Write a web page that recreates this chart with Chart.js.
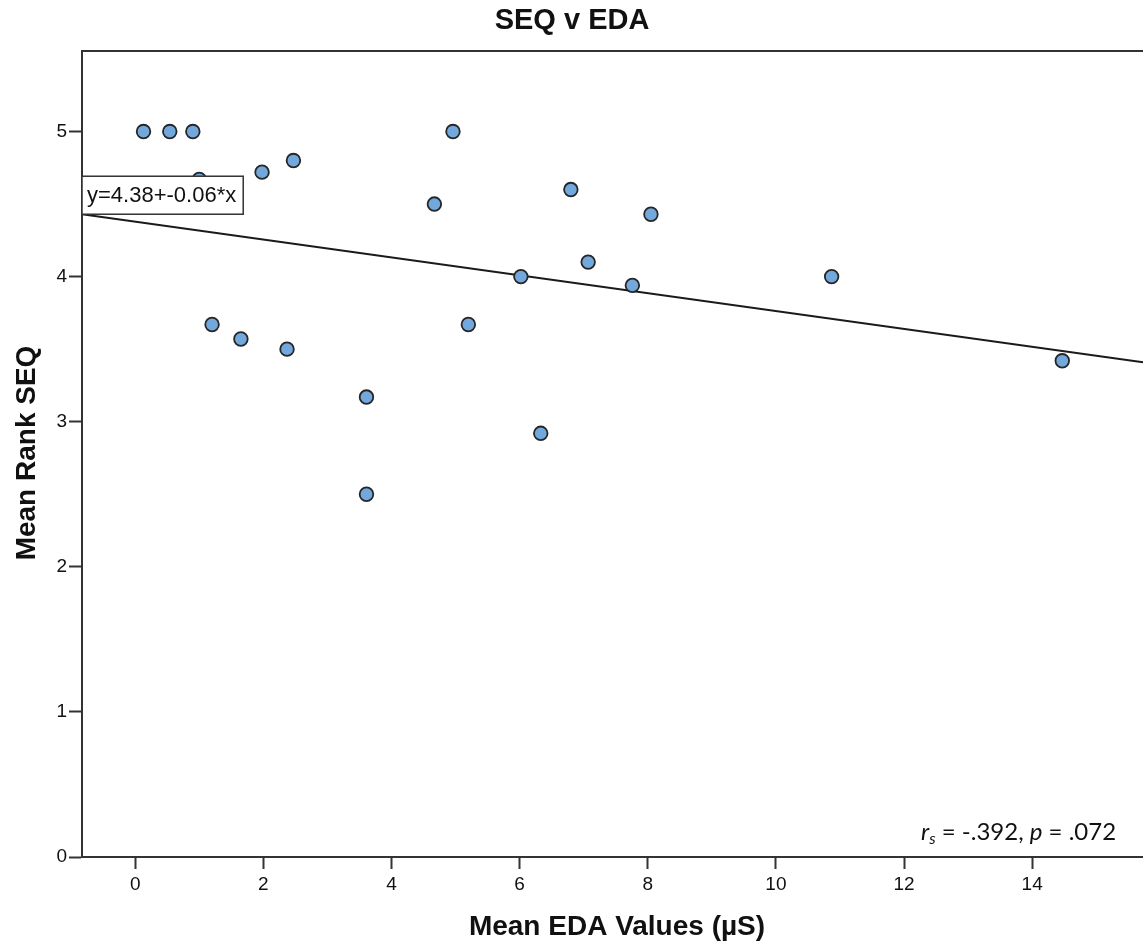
<!DOCTYPE html>
<html>
<head>
<meta charset="utf-8">
<script src="https://cdn.jsdelivr.net/npm/chart.js@4/dist/chart.umd.min.js"></script>
<style>
  html, body { margin: 0; padding: 0; background: #fff; overflow: hidden; }
  #wrap { width: 1143px; height: 943px; position: relative; }
</style>
</head>
<body>
<div id="wrap"><canvas id="scatter-chart"></canvas></div>
<script>
// values
const edaValues = [0.13, 0.54, 0.90, 1.00, 1.98, 2.47, 1.20, 1.65, 2.37, 3.61, 3.61, 4.67, 4.96, 5.20, 6.02, 6.33, 6.80, 7.07, 7.76, 8.05, 10.87, 14.47];
const seqRanks  = [5.00, 5.00, 5.00, 4.67, 4.72, 4.80, 3.67, 3.57, 3.50, 3.17, 2.50, 4.50, 5.00, 3.67, 4.00, 2.92, 4.60, 4.10, 3.94, 4.43, 4.00, 3.42];

// fit line end points (y=4.38+-0.06*x)
const fitX = [-0.83, 15.73];
const fitY = [4.43, 3.41];

const xTicks = [0, 2, 4, 6, 8, 10, 12, 14];
const yTicks = [0, 1, 2, 3, 4, 5];

const chartTitle = 'SEQ v EDA';
const xTitle = 'Mean EDA Values (\u00b5S)';
const yTitle = 'Mean Rank SEQ';
const fitLabel = 'y=4.38+-0.06*x';

const FONT = '"Liberation Sans", Arial, sans-serif';
const NOTE_FONT = 'Lato, "Open Sans", sans-serif';

const points = edaValues.map((x, i) => ({ x, y: seqRanks[i] }));
const fitPoints = fitX.map((x, i) => ({ x, y: fitY[i] }));

// title, top frame line, fit label box and r_s note
const extras = {
    id: 'extras',
    afterDraw(chart) {
        const c = chart.ctx;
        const a = chart.chartArea;
        c.save();
        // top frame
        c.strokeStyle = '#333';
        c.lineWidth = 2;
        c.beginPath();
        c.moveTo(a.left, a.top);
        c.lineTo(chart.width, a.top);
        c.stroke();

        // titles
        c.fillStyle = '#111';
        c.textAlign = 'center';
        c.textBaseline = 'middle';
        c.font = 'bold 29px ' + FONT;
        c.fillText(chartTitle, 572, 21);

        c.font = 'bold 28px ' + FONT;
        c.save();
        c.translate(27, 453);
        c.rotate(-Math.PI / 2);
        c.fillText(yTitle, 0, 0);
        c.restore();

        c.fillText(xTitle, 617, 927);

        // fit label box
        const yb = chart.scales.y.getPixelForValue(fitY[0]);
        c.font = '22px ' + FONT;
        const tw = c.measureText(fitLabel).width;
        c.fillStyle = '#fff';
        c.fillRect(a.left, yb - 38, tw + 12, 38);
        c.strokeStyle = '#333';
        c.lineWidth = 1.5;
        c.strokeRect(a.left, yb - 38, tw + 12, 38);
        c.fillStyle = '#111';
        c.textAlign = 'left';
        c.fillText(fitLabel, a.left + 5, yb - 18);

        // r_s note
        let x = 921;
        const yy = 832;
        c.font = 'italic 24px ' + NOTE_FONT;
        c.fillText('r', x, yy);
        x += c.measureText('r').width;
        c.font = 'italic 16px ' + NOTE_FONT;
        c.fillText('s', x, yy + 7);
        x += c.measureText('s').width;
        c.font = '24px ' + NOTE_FONT;
        c.fillText(' = -.392, ', x, yy);
        x += c.measureText(' = -.392, ').width;
        c.font = 'italic 24px ' + NOTE_FONT;
        c.fillText('p', x, yy);
        x += c.measureText('p').width;
        c.font = '24px ' + NOTE_FONT;
        c.fillText(' = .072', x, yy);
        c.restore();
    }
};

new Chart(document.getElementById('scatter-chart'), {
    type: 'scatter',
    data: {
        datasets: [
            {
                label: 'fit',
                type: 'line',
                data: fitPoints,
                borderColor: '#1a1a1a',
                borderWidth: 2,
                pointRadius: 0,
                fill: false,
                order: 2
            },
            {
                label: 'SEQ v EDA',
                data: points,
                backgroundColor: '#72a8dc',
                borderColor: '#262626',
                borderWidth: 1.8,
                pointRadius: 6.8,
                order: 1
            }
        ]
    },
    options: {
        responsive: true, maintainAspectRatio: false,
        animation: false,
        layout: { autoPadding: false, padding: { top: 51, left: 0, right: 0, bottom: 0 } },
        plugins: {
            legend: { display: false },
            tooltip: { enabled: false },
            title: { display: false }
        },
        scales: {
            x: {
                type: 'linear',
                min: -0.83, max: 15.73,
                afterBuildTicks: s => { s.ticks = xTicks.map(v => ({ value: v })); },
                afterFit: s => { s.height = 86; },
                grid: { display: true, drawOnChartArea: false, drawTicks: true, tickLength: 12, tickColor: '#333', tickWidth: 2 },
                border: { display: true, color: '#333', width: 2 },
                ticks: { color: '#111', font: { family: FONT, size: 19 }, padding: 4, maxRotation: 0 }
            },
            y: {
                type: 'linear',
                min: 0, max: 5.555,
                afterBuildTicks: s => { s.ticks = yTicks.map(v => ({ value: v })); },
                afterFit: s => { s.width = 82; },
                grid: { display: true, drawOnChartArea: false, drawTicks: true, tickLength: 13, tickColor: '#333', tickWidth: 2 },
                border: { display: true, color: '#333', width: 2 },
                ticks: { color: '#111', font: { family: FONT, size: 19 }, padding: 2 }
            }
        }
    },
    plugins: [extras]
});
</script>
</body>
</html>
